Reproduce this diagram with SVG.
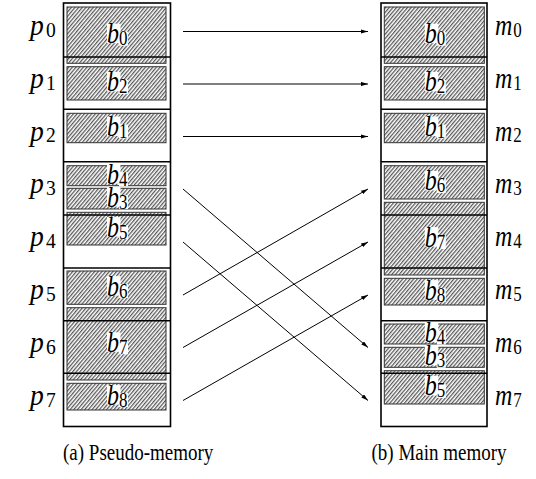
<svg xmlns="http://www.w3.org/2000/svg" width="536" height="479" viewBox="0 0 536 479">
  <style>
    .frame { fill: none; stroke: #000; stroke-width: 1.6; }
    .slot { stroke: #000; stroke-width: 1.6; }
    .blk { fill: url(#hatch); stroke: #333; stroke-width: 1; }
    .lblbg { fill: #fff; }
    .math { font-family: "Liberation Serif", "Times New Roman", serif; font-style: italic; font-size: 24px; fill: #000; }
    .sub { font-style: normal; font-size: 17px; }
    .cap { font-family: "Liberation Serif", "Times New Roman", serif; font-size: 19px; fill: #000; }
    .conn { stroke: #000; stroke-width: 1; fill: none; marker-end: url(#arrow); }
  </style>
  <defs>
    <pattern id="hatch" patternUnits="userSpaceOnUse" width="2.8" height="6" patternTransform="rotate(40)">
      <rect width="2.8" height="6" fill="#fff"/>
      <line x1="0.7" y1="0" x2="0.7" y2="6" stroke="#2a2a2a" stroke-width="1"/>
    </pattern>
    <marker id="arrow" viewBox="0 0 10 6" refX="10" refY="3" markerWidth="7" markerHeight="4.2" orient="auto" markerUnits="userSpaceOnUse">
      <path d="M0,0 L10,3 L0,6 Z" fill="#000"/>
    </marker>
    <!-- one block label: white patch behind the letter and its subscript -->
    <g id="lbl-bg">
      <rect class="lblbg" x="-9.5" y="-11.5" width="13.5" height="19.5"/>
      <rect class="lblbg" x="2.5" y="-3.5" width="9" height="14"/>
    </g>
  </defs>

  <!-- Pseudo-memory column -->
  <g id="pseudo-memory">
    <rect id="pm-b0" class="blk" x="67" y="7" width="99" height="56.3"/>
    <rect id="pm-b2" class="blk" x="67" y="66.7" width="99" height="33.3"/>
    <rect id="pm-b1" class="blk" x="67" y="113.3" width="99" height="29.4"/>
    <rect id="pm-b4" class="blk" x="67" y="165.7" width="99" height="20"/>
    <rect id="pm-b3" class="blk" x="67" y="188.3" width="99" height="20.7"/>
    <rect id="pm-b5" class="blk" x="67" y="212.3" width="99" height="32.7"/>
    <rect id="pm-b6" class="blk" x="67" y="271" width="99" height="33.3"/>
    <rect id="pm-b7" class="blk" x="67" y="307.7" width="99" height="72.3"/>
    <rect id="pm-b8" class="blk" x="67" y="383.3" width="99" height="26.7"/>
    <g class="slot">
      <line x1="63.5" y1="57" x2="170.5" y2="57"/>
      <line x1="63.5" y1="109.3" x2="170.5" y2="109.3"/>
      <line x1="63.5" y1="161.7" x2="170.5" y2="161.7"/>
      <line x1="63.5" y1="215" x2="170.5" y2="215"/>
      <line x1="63.5" y1="268" x2="170.5" y2="268"/>
      <line x1="63.5" y1="320.7" x2="170.5" y2="320.7"/>
      <line x1="63.5" y1="373.3" x2="170.5" y2="373.3"/>
    </g>
    <rect class="frame" x="63.5" y="3" width="107" height="423.5"/>
  </g>

  <!-- Main memory column -->
  <g id="main-memory">
    <rect id="mm-b0" class="blk" x="384.3" y="7" width="100" height="56.3"/>
    <rect id="mm-b2" class="blk" x="384.3" y="66.7" width="100" height="33.3"/>
    <rect id="mm-b1" class="blk" x="384.3" y="113.3" width="100" height="29.4"/>
    <rect id="mm-b6" class="blk" x="384.3" y="165.7" width="100" height="33.3"/>
    <rect id="mm-b7" class="blk" x="384.3" y="202.3" width="100" height="72.7"/>
    <rect id="mm-b8" class="blk" x="384.3" y="278.3" width="100" height="26.7"/>
    <rect id="mm-b4" class="blk" x="384.3" y="324" width="100" height="20"/>
    <rect id="mm-b3" class="blk" x="384.3" y="347.3" width="100" height="20"/>
    <rect id="mm-b5" class="blk" x="384.3" y="370.7" width="100" height="33.3"/>
    <g class="slot">
      <line x1="381" y1="57" x2="487" y2="57"/>
      <line x1="381" y1="109.3" x2="487" y2="109.3"/>
      <line x1="381" y1="161.7" x2="487" y2="161.7"/>
      <line x1="381" y1="215" x2="487" y2="215"/>
      <line x1="381" y1="268" x2="487" y2="268"/>
      <line x1="381" y1="320.7" x2="487" y2="320.7"/>
      <line x1="381" y1="373.3" x2="487" y2="373.3"/>
    </g>
    <rect class="frame" x="381" y="3" width="106" height="423.5"/>
  </g>

  <!-- Block labels -->
  <g id="block-labels">
    <g id="lbl-pm-b0" transform="translate(116.5,35.2)"><use href="#lbl-bg"/><text class="math" transform="translate(-9.5,8) scale(1,1.2)">b<tspan class="sub" dy="1.6">0</tspan></text></g>
    <g id="lbl-pm-b2" transform="translate(116.5,83.4)"><use href="#lbl-bg"/><text class="math" transform="translate(-9.5,8) scale(1,1.2)">b<tspan class="sub" dy="1.6">2</tspan></text></g>
    <g id="lbl-pm-b1" transform="translate(116.5,128)"><use href="#lbl-bg"/><text class="math" transform="translate(-9.5,8) scale(1,1.2)">b<tspan class="sub" dy="1.6">1</tspan></text></g>
    <g id="lbl-pm-b4" transform="translate(116.5,175.7)"><use href="#lbl-bg"/><text class="math" transform="translate(-9.5,8) scale(1,1.2)">b<tspan class="sub" dy="1.6">4</tspan></text></g>
    <g id="lbl-pm-b3" transform="translate(116.5,198.6)"><use href="#lbl-bg"/><text class="math" transform="translate(-9.5,8) scale(1,1.2)">b<tspan class="sub" dy="1.6">3</tspan></text></g>
    <g id="lbl-pm-b5" transform="translate(116.5,228.6)"><use href="#lbl-bg"/><text class="math" transform="translate(-9.5,8) scale(1,1.2)">b<tspan class="sub" dy="1.6">5</tspan></text></g>
    <g id="lbl-pm-b6" transform="translate(116.5,287.6)"><use href="#lbl-bg"/><text class="math" transform="translate(-9.5,8) scale(1,1.2)">b<tspan class="sub" dy="1.6">6</tspan></text></g>
    <g id="lbl-pm-b7" transform="translate(116.5,343.8)"><use href="#lbl-bg"/><text class="math" transform="translate(-9.5,8) scale(1,1.2)">b<tspan class="sub" dy="1.6">7</tspan></text></g>
    <g id="lbl-pm-b8" transform="translate(116.5,396.6)"><use href="#lbl-bg"/><text class="math" transform="translate(-9.5,8) scale(1,1.2)">b<tspan class="sub" dy="1.6">8</tspan></text></g>

    <g id="lbl-mm-b0" transform="translate(434.3,35.2)"><use href="#lbl-bg"/><text class="math" transform="translate(-9.5,8) scale(1,1.2)">b<tspan class="sub" dy="1.6">0</tspan></text></g>
    <g id="lbl-mm-b2" transform="translate(434.3,83.4)"><use href="#lbl-bg"/><text class="math" transform="translate(-9.5,8) scale(1,1.2)">b<tspan class="sub" dy="1.6">2</tspan></text></g>
    <g id="lbl-mm-b1" transform="translate(434.3,128)"><use href="#lbl-bg"/><text class="math" transform="translate(-9.5,8) scale(1,1.2)">b<tspan class="sub" dy="1.6">1</tspan></text></g>
    <g id="lbl-mm-b6" transform="translate(434.3,182.4)"><use href="#lbl-bg"/><text class="math" transform="translate(-9.5,8) scale(1,1.2)">b<tspan class="sub" dy="1.6">6</tspan></text></g>
    <g id="lbl-mm-b7" transform="translate(434.3,238.6)"><use href="#lbl-bg"/><text class="math" transform="translate(-9.5,8) scale(1,1.2)">b<tspan class="sub" dy="1.6">7</tspan></text></g>
    <g id="lbl-mm-b8" transform="translate(434.3,291.6)"><use href="#lbl-bg"/><text class="math" transform="translate(-9.5,8) scale(1,1.2)">b<tspan class="sub" dy="1.6">8</tspan></text></g>
    <g id="lbl-mm-b4" transform="translate(434.3,334)"><use href="#lbl-bg"/><text class="math" transform="translate(-9.5,8) scale(1,1.2)">b<tspan class="sub" dy="1.6">4</tspan></text></g>
    <g id="lbl-mm-b3" transform="translate(434.3,357.3)"><use href="#lbl-bg"/><text class="math" transform="translate(-9.5,8) scale(1,1.2)">b<tspan class="sub" dy="1.6">3</tspan></text></g>
    <g id="lbl-mm-b5" transform="translate(434.3,387.4)"><use href="#lbl-bg"/><text class="math" transform="translate(-9.5,8) scale(1,1.2)">b<tspan class="sub" dy="1.6">5</tspan></text></g>
  </g>

  <!-- Page labels p0..p7 -->
  <g id="page-labels">
    <text class="math" transform="translate(30,35) scale(1.15,1.2)">p<tspan class="sub" dx="2" dy="1.6">0</tspan></text>
    <text class="math" transform="translate(30,87.7) scale(1.15,1.2)">p<tspan class="sub" dx="2" dy="1.6">1</tspan></text>
    <text class="math" transform="translate(30,140.5) scale(1.15,1.2)">p<tspan class="sub" dx="2" dy="1.6">2</tspan></text>
    <text class="math" transform="translate(30,193.4) scale(1.15,1.2)">p<tspan class="sub" dx="2" dy="1.6">3</tspan></text>
    <text class="math" transform="translate(30,246.2) scale(1.15,1.2)">p<tspan class="sub" dx="2" dy="1.6">4</tspan></text>
    <text class="math" transform="translate(30,299.1) scale(1.15,1.2)">p<tspan class="sub" dx="2" dy="1.6">5</tspan></text>
    <text class="math" transform="translate(30,351.9) scale(1.15,1.2)">p<tspan class="sub" dx="2" dy="1.6">6</tspan></text>
    <text class="math" transform="translate(30,404.8) scale(1.15,1.2)">p<tspan class="sub" dx="2" dy="1.6">7</tspan></text>
  </g>

  <!-- Frame labels m0..m7 -->
  <g id="frame-labels">
    <text class="math" transform="translate(495,35) scale(1,1.2)">m<tspan class="sub" dx="1" dy="1.6">0</tspan></text>
    <text class="math" transform="translate(495,87.7) scale(1,1.2)">m<tspan class="sub" dx="1" dy="1.6">1</tspan></text>
    <text class="math" transform="translate(495,140.5) scale(1,1.2)">m<tspan class="sub" dx="1" dy="1.6">2</tspan></text>
    <text class="math" transform="translate(495,193.4) scale(1,1.2)">m<tspan class="sub" dx="1" dy="1.6">3</tspan></text>
    <text class="math" transform="translate(495,246.2) scale(1,1.2)">m<tspan class="sub" dx="1" dy="1.6">4</tspan></text>
    <text class="math" transform="translate(495,299.1) scale(1,1.2)">m<tspan class="sub" dx="1" dy="1.6">5</tspan></text>
    <text class="math" transform="translate(495,351.9) scale(1,1.2)">m<tspan class="sub" dx="1" dy="1.6">6</tspan></text>
    <text class="math" transform="translate(495,404.8) scale(1,1.2)">m<tspan class="sub" dx="1" dy="1.6">7</tspan></text>
  </g>

  <!-- Page-to-frame mapping -->
  <g id="connectors">
    <line class="conn" x1="183" y1="31.5" x2="368" y2="31.5"/>
    <line class="conn" x1="183" y1="84" x2="368" y2="84"/>
    <line class="conn" x1="183" y1="136.5" x2="368" y2="136.5"/>
    <line class="conn" x1="183" y1="189" x2="368" y2="347.5"/>
    <line class="conn" x1="183" y1="242" x2="368" y2="400.5"/>
    <line class="conn" x1="183" y1="295" x2="368" y2="189"/>
    <line class="conn" x1="183" y1="347.5" x2="368" y2="242"/>
    <line class="conn" x1="183" y1="400.5" x2="368" y2="295"/>
  </g>

  <!-- Captions -->
  <text class="cap" transform="translate(63,460) scale(1,1.25)">(a) Pseudo-memory</text>
  <text class="cap" transform="translate(371.5,460) scale(1,1.25)">(b) Main memory</text>
</svg>
